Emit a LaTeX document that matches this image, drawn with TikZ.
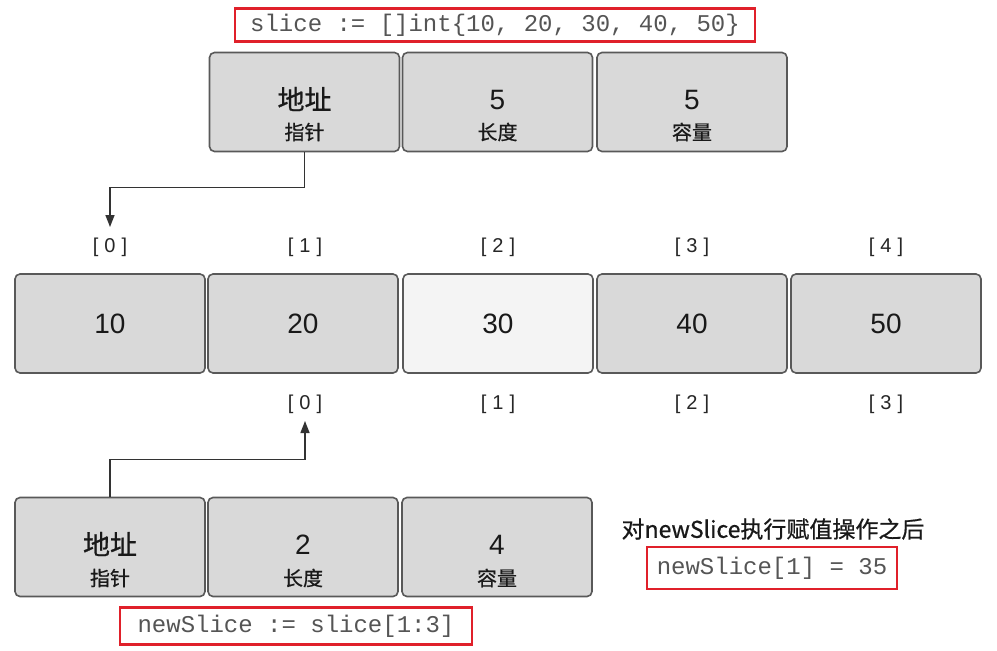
\documentclass[tikz,border=0pt]{standalone}
\usepackage{fontspec}
\setmainfont{Liberation Sans}
\setmonofont{Liberation Mono}
\newfontfamily\cjk[FakeBold=0.7]{Noto Sans CJK SC}
\usetikzlibrary{arrows.meta}
\definecolor{cellgray}{HTML}{D9D9D9}
\definecolor{celllight}{HTML}{F4F4F4}
\definecolor{boxline}{HTML}{595959}
\definecolor{codegray}{HTML}{555555}
\definecolor{redline}{HTML}{E0202A}
\newcommand{\ix}[1]{[\hspace{6pt}#1\hspace{6pt}]}
\begin{document}
\begin{tikzpicture}[x=1pt,y=-1pt,
  cell/.style={draw=boxline,line width=1.6pt,rounded corners=5pt,fill=cellgray,
    minimum width=190pt,minimum height=99pt,inner sep=0pt},
  big/.style={font=\cjk\fontsize{27}{30}\selectfont,text=black!90,inner sep=0pt},
  small/.style={font=\cjk\fontsize{20}{22}\selectfont,text=black!90,inner sep=0pt},
  num/.style={font=\fontsize{28}{30}\selectfont,text=black!90,inner sep=0pt},
  idx/.style={font=\fontsize{20}{22}\selectfont,text=black!85,inner sep=0pt},
  code/.style={draw=redline,line width=2.4pt,inner sep=0pt,
    font=\ttfamily\fontsize{24}{26}\selectfont,text=codegray},
  conn/.style={draw=black!80,line width=1.4pt,-{Triangle[length=12pt,width=9pt]}}]
\useasboundingbox (0,0) rectangle (997,651);
\fill[white] (0,0) rectangle (997,651);

% top code
\node[code,minimum width=520pt,minimum height=33pt] (c1) at (495,25) {slice := []int\{10, 20, 30, 40, 50\}};

% top slice header
\node[cell] (t1) at (304.5,102) {};
\node[cell] (t2) at (497.5,102) {};
\node[cell] (t3) at (692,102) {};
\node[big] (t1a) at (304.5,99) {地址};
\node[small] (t1b) at (304.5,132) {指针};
\node[num] (t2a) at (497.5,100) {5};
\node[small] (t2b) at (497.5,132) {长度};
\node[num] (t3a) at (692,100) {5};
\node[small] (t3b) at (692,132) {容量};

% array indices top
\node[idx] (i0) at (110,247) {\ix{0}};
\node[idx] (i1) at (305,247) {\ix{1}};
\node[idx] (i2) at (498,247) {\ix{2}};
\node[idx] (i3) at (692,247) {\ix{3}};
\node[idx] (i4) at (886,247) {\ix{4}};

% array
\node[cell] (m0) at (110,323.5) {};
\node[cell] (m1) at (303,323.5) {};
\node[cell,fill=celllight] (m2) at (498,323.5) {};
\node[cell] (m3) at (692,323.5) {};
\node[cell] (m4) at (886,323.5) {};
\node[num] (v0) at (110,324) {10};
\node[num] (v1) at (303,324) {20};
\node[num] (v2) at (498,324) {30};
\node[num] (v3) at (692,324) {40};
\node[num] (v4) at (886,324) {50};

% new slice indices
\node[idx] (j0) at (305,404) {\ix{0}};
\node[idx] (j1) at (498,404) {\ix{1}};
\node[idx] (j2) at (692,404) {\ix{2}};
\node[idx] (j3) at (886,404) {\ix{3}};

% bottom slice header
\node[cell] (b1) at (110,547) {};
\node[cell] (b2) at (303,547) {};
\node[cell] (b3) at (497,547) {};
\node[big] (b1a) at (110,544) {地址};
\node[small] (b1b) at (110,578) {指针};
\node[num] (b2a) at (303,545) {2};
\node[small] (b2b) at (303,578) {长度};
\node[num] (b3a) at (497,545) {4};
\node[small] (b3b) at (497,578) {容量};

% bottom code
\node[code,minimum width=352pt,minimum height=37pt] (c2) at (296,626) {newSlice := slice[1:3]};

% right note
\node[font=\cjk\fontsize{23}{25}\selectfont,text=black!90,inner sep=0pt] (note) at (773,529) {对newSlice执行赋值操作之后};
\node[code,minimum width=250pt,minimum height=42pt] (c3) at (772,568) {newSlice[1] = 35};

% connectors
\coordinate (a0) at (110,227);
\coordinate (a1) at (305,421);
\draw[conn] (t1.south) -- ++(0,35) -| (a0);
\draw[conn] (b1.north) -- ++(0,-37) -| (a1);
\end{tikzpicture}
\end{document}
